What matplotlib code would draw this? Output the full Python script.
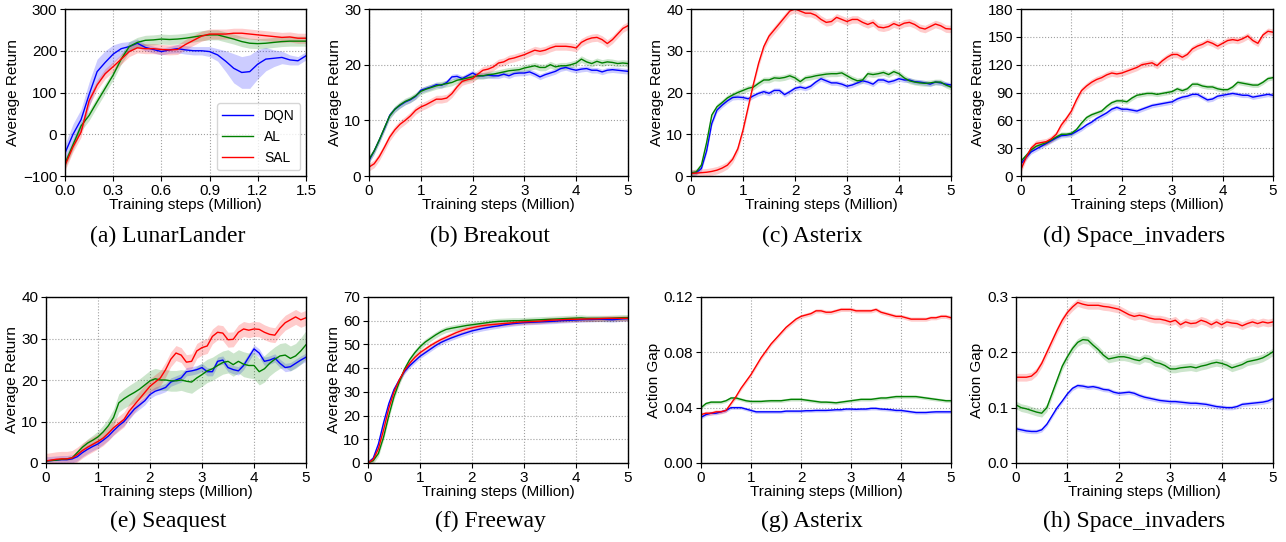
import matplotlib.pyplot as plt
import numpy as np

plt.rcParams['font.family'] = ['Liberation Sans', 'DejaVu Sans']
plt.rcParams['axes.linewidth'] = 1.0

W, H = 1286, 542

methods = ['DQN', 'AL', 'SAL']
colors = ['b', 'g', 'r']

# x grids (million steps)
x_lunar = np.arange(31) * 0.05
x_atari = np.arange(51) * 0.1

# (a) LunarLander
lunar_dqn = [-45, 0, 35, 95, 150, 172, 192, 205, 210, 218,
             208, 203, 198, 202, 205, 202, 200, 200, 198, 190,
             175, 158, 148, 150, 168, 180, 182, 184, 178, 176,
             188]
lunar_al = [-70, -25, 20, 45, 78, 110, 142, 180, 210, 220,
            225, 226, 228, 227, 228, 230, 233, 236, 238, 238,
            233, 228, 222, 218, 217, 218, 220, 222, 223, 223,
            223]
lunar_sal = [-75, -30, 5, 80, 118, 145, 162, 180, 198, 207,
             205, 205, 203, 202, 203, 215, 225, 235, 240, 240,
             240, 242, 242, 240, 238, 236, 234, 232, 233, 230,
             230]
lunar_dqn_band = [20, 25, 25, 30, 30, 28, 22, 15, 12, 10,
                  8, 8, 8, 8, 10, 10, 10, 10, 12, 15,
                  25, 35, 38, 40, 35, 28, 20, 15, 12, 10,
                  10]

# (b) Breakout
breakout_dqn = [2.8, 4.5, 6.5, 8.6, 10.9, 12.0, 12.7, 13.3, 13.7, 14.3,
                15.4, 15.7, 16.0, 16.4, 16.3, 16.8, 17.8, 17.9, 17.5, 18.0,
                18.5, 18.0, 18.0, 18.1, 18.0, 18.0, 18.3, 18.0, 18.4, 18.5,
                18.5, 18.7, 18.3, 17.8, 18.2, 18.5, 18.8, 19.3, 19.5, 19.2,
                19.0, 19.2, 19.3, 19.0, 19.0, 18.7, 19.0, 19.1, 19.0, 18.9,
                18.8]
breakout_al = [3.0, 4.5, 6.5, 8.7, 10.8, 12.0, 12.8, 13.4, 13.8, 14.4,
               15.2, 15.6, 15.9, 16.2, 16.4, 16.6, 16.8, 17.2, 17.4, 17.6,
               17.8, 18.0, 18.0, 18.2, 18.3, 18.5, 18.7, 18.9, 19.0, 19.1,
               19.4, 19.6, 19.8, 19.5, 19.5, 20.0, 19.6, 19.8, 19.8, 20.0,
               20.3, 21.0, 20.5, 20.2, 20.6, 20.3, 20.5, 20.4, 20.2, 20.3,
               20.2]
breakout_sal = [1.6, 2.2, 3.5, 5.2, 7.0, 8.3, 9.3, 10.0, 10.8, 11.8,
                12.4, 12.8, 13.3, 13.8, 13.8, 14.0, 14.8, 16.0, 17.0, 17.3,
                17.5, 18.3, 19.0, 19.2, 19.6, 20.3, 20.5, 21.0, 21.2, 21.5,
                21.8, 22.2, 22.6, 22.4, 22.6, 23.0, 23.3, 23.3, 23.3, 23.2,
                23.0, 24.0, 24.5, 24.8, 24.9, 24.5, 23.8, 24.5, 25.5, 26.5,
                27.0]

# (c) Asterix return
asterix_dqn = [0.7, 0.8, 1.8, 6.0, 12.6, 15.8, 17.0, 18.0, 18.8, 18.9,
               18.8, 18.5, 19.2, 19.8, 20.2, 19.8, 20.5, 20.5, 19.5, 20.2,
               21.0, 21.3, 21.0, 21.5, 22.5, 23.3, 22.8, 22.3, 22.3, 22.0,
               21.5, 21.8, 22.3, 22.8, 22.5, 22.0, 23.0, 23.0, 22.5, 22.8,
               23.3, 23.0, 23.0, 22.6, 22.5, 22.3, 22.0, 22.5, 22.3, 22.0,
               21.8]
asterix_al = [0.7, 1.0, 2.6, 8.0, 14.6, 16.6, 17.6, 18.7, 19.4, 20.0,
              20.5, 21.0, 21.3, 22.2, 23.0, 23.0, 23.5, 23.4, 23.6, 24.0,
              23.5, 22.6, 23.5, 23.7, 24.0, 24.2, 24.4, 24.5, 24.5, 24.7,
              24.0, 23.3, 22.8, 23.0, 24.5, 24.3, 24.5, 24.8, 24.3, 25.0,
              24.5, 23.5, 22.8, 22.5, 22.3, 22.2, 22.3, 22.5, 22.5, 21.8,
              21.3]
asterix_sal = [0.6, 0.7, 0.8, 0.9, 1.1, 1.4, 1.9, 2.6, 4.0, 6.5,
               11.0, 16.5, 22.0, 27.0, 31.0, 33.5, 35.0, 36.5, 38.0, 39.5,
               40.0, 39.5, 39.0, 39.0, 38.5, 37.5, 36.8, 37.0, 38.0, 37.5,
               37.0, 37.5, 37.5, 36.8, 36.3, 36.8, 35.7, 35.5, 35.8, 36.5,
               36.0, 36.6, 36.8, 36.3, 35.5, 35.2, 35.8, 36.4, 36.0, 35.3,
               35.2]

# (d) Space_invaders return
space_dqn = [13, 20, 26, 29, 32, 35, 38, 41, 43.5, 44,
             45, 48, 51, 55, 58, 62, 65, 68, 72, 74,
             72, 72, 71, 70, 72, 74, 76, 77, 78, 79,
             80, 83, 85, 86, 88, 88, 85, 82, 83, 86,
             87, 88, 89, 88, 87, 87, 85, 86, 87, 88,
             87]
space_al = [16, 22, 28, 32, 34, 36, 39, 42, 45, 45,
            46, 50, 57, 63, 66, 68, 70, 75, 79, 81,
            81, 80, 84, 87, 88, 89, 89, 88, 89, 90,
            91, 94, 92, 94, 99, 99, 97, 96, 96, 94,
            93, 93, 96, 101, 100, 99, 98, 98, 101, 105,
            106]
space_sal = [7, 20, 30, 35, 36, 37, 40, 45, 55, 62,
             70, 82, 92, 97, 101, 104, 106, 109, 111, 110,
             111, 113, 115, 117, 120, 121, 122, 119, 124, 128,
             131, 131, 128, 131, 137, 140, 142, 145, 143, 140,
             143, 146, 147, 146, 148, 151, 146, 143, 152, 156,
             155]

# (e) Seaquest
seaquest_dqn = [0.5, 0.6, 0.7, 0.8, 0.8, 1.0, 1.5, 2.5, 3.3, 4.0,
                4.6, 5.5, 6.5, 7.8, 9.0, 10.0, 11.5, 13.0, 14.0, 15.0,
                16.5, 17.3, 17.7, 18.2, 19.5, 20.0, 20.5, 22.0, 22.2, 22.5,
                23.0, 22.0, 22.0, 24.5, 24.8, 23.0, 22.5, 22.2, 23.5, 25.5,
                27.5, 26.5, 24.5, 24.8, 25.3, 24.0, 23.0, 23.2, 24.0, 24.8,
                25.5]
seaquest_al = [0.5, 0.6, 0.7, 0.9, 1.0, 1.2, 2.5, 3.8, 4.8, 5.5,
               6.3, 7.5, 9.0, 11.0, 14.5, 15.5, 16.3, 17.0, 17.8, 18.8,
               19.8, 20.3, 20.0, 20.0, 19.8, 19.8, 20.0, 19.7, 19.5, 20.5,
               21.3, 22.2, 22.7, 23.5, 24.2, 24.5, 23.7, 24.5, 23.8, 23.5,
               23.5, 22.0, 22.7, 24.0, 25.0, 25.8, 26.0, 25.2, 25.8, 27.0,
               28.5]
seaquest_sal = [0.5, 0.7, 0.9, 1.0, 1.0, 1.2, 2.0, 3.0, 3.8, 4.5,
                5.2, 6.0, 7.2, 8.5, 9.5, 10.5, 12.5, 14.0, 15.5, 17.0,
                18.5, 19.5, 20.5, 22.5, 25.0, 26.5, 26.0, 24.3, 24.5, 27.0,
                27.8, 28.2, 30.5, 31.5, 31.3, 29.7, 29.8, 31.5, 32.3, 32.0,
                32.3, 32.2, 31.5, 31.0, 30.8, 32.5, 33.8, 34.5, 35.2, 34.5,
                35.0]
seaquest_al_band = [0.1, 0.1, 0.1, 0.2, 0.3, 0.4, 0.6, 0.8, 1.0, 1.2,
                    1.4, 1.6, 1.8, 2.0, 2.2, 2.3, 2.4, 2.5, 2.5, 2.5,
                    2.5, 2.5, 2.5, 2.5, 2.5, 2.5, 2.5, 2.6, 2.7, 2.8,
                    2.8, 2.8, 2.8, 2.8, 2.8, 2.8, 2.8, 2.8, 3.0, 3.0,
                    3.2, 3.2, 3.2, 3.0, 3.0, 3.0, 3.0, 3.0, 3.0, 3.2,
                    3.4]

# (f) Freeway
freeway_dqn = [0, 2, 8, 17, 25, 31, 35, 38.5, 41, 43,
               45, 46.5, 48, 49.5, 50.8, 51.8, 52.7, 53.5, 54.3, 55,
               55.7, 56.2, 56.7, 57.1, 57.5, 57.8, 58.2, 58.5, 58.8, 59,
               59.2, 59.3, 59.4, 59.5, 59.6, 59.7, 59.8, 60, 60.1, 60.2,
               60.3, 60.4, 60.5, 60.5, 60.6, 60.6, 60.5, 60.4, 60.6, 60.8,
               60.9]
freeway_al = [0, 1, 4, 11, 20, 28, 34, 39.5, 43.5, 46.5,
              49, 51, 52.5, 54, 55.3, 56.3, 56.8, 57.2, 57.6, 58,
              58.3, 58.6, 58.9, 59.2, 59.5, 59.7, 59.8, 59.9, 60, 60,
              60.1, 60.2, 60.3, 60.4, 60.5, 60.6, 60.7, 60.8, 60.9, 61,
              61.1, 61.2, 61, 61, 61, 61, 61, 61.1, 61.2, 61.3,
              61.3]
freeway_sal = [0, 1.5, 6, 14, 23, 30, 35, 39, 42, 44.5,
               46.5, 48, 49.5, 50.8, 52, 53, 54, 55, 55.8, 56.5,
               57, 57.5, 57.9, 58.2, 58.4, 58.6, 58.8, 59, 59.2, 59.4,
               59.5, 59.6, 59.7, 59.8, 60, 60.2, 60.3, 60.4, 60.5, 60.6,
               60.6, 60.7, 60.7, 60.8, 60.8, 60.9, 61, 61, 61, 61,
               61]

# (g) Asterix action gap
gap_asterix_dqn = [0.033, 0.035, 0.036, 0.036, 0.037, 0.038, 0.040, 0.040, 0.040, 0.039,
                   0.038, 0.037, 0.037, 0.037, 0.037, 0.037, 0.037, 0.0375, 0.0375, 0.0375,
                   0.0375, 0.0378, 0.0378, 0.038, 0.038, 0.038, 0.0382, 0.0385, 0.0385, 0.039,
                   0.039, 0.0388, 0.039, 0.039, 0.0395, 0.0395, 0.039, 0.0388, 0.0385, 0.038,
                   0.038, 0.0375, 0.037, 0.0365, 0.0365, 0.0365, 0.0368, 0.037, 0.037, 0.037,
                   0.037]
gap_asterix_al = [0.040, 0.043, 0.044, 0.044, 0.044, 0.045, 0.047, 0.047, 0.046, 0.045,
                  0.0445, 0.0445, 0.0445, 0.0448, 0.045, 0.045, 0.045, 0.0455, 0.046, 0.046,
                  0.046, 0.0455, 0.045, 0.0445, 0.044, 0.044, 0.0438, 0.0435, 0.044, 0.0445,
                  0.045, 0.0455, 0.046, 0.046, 0.046, 0.0465, 0.047, 0.047, 0.0475, 0.048,
                  0.048, 0.048, 0.048, 0.048, 0.0475, 0.047, 0.0465, 0.046, 0.0455, 0.045,
                  0.045]
gap_asterix_sal = [0.035, 0.036, 0.036, 0.037, 0.037, 0.038, 0.043, 0.048, 0.054, 0.059,
                   0.064, 0.070, 0.076, 0.081, 0.086, 0.090, 0.094, 0.098, 0.101, 0.104,
                   0.106, 0.107, 0.108, 0.110, 0.110, 0.109, 0.109, 0.110, 0.111, 0.111,
                   0.111, 0.110, 0.110, 0.110, 0.110, 0.111, 0.109, 0.108, 0.107, 0.106,
                   0.106, 0.105, 0.104, 0.104, 0.104, 0.104, 0.105, 0.105, 0.106, 0.106,
                   0.105]

# (h) Space_invaders action gap
gap_space_dqn = [0.062, 0.060, 0.058, 0.057, 0.057, 0.060, 0.070, 0.085, 0.100, 0.112,
                 0.125, 0.135, 0.140, 0.139, 0.137, 0.138, 0.136, 0.133, 0.132, 0.128,
                 0.126, 0.127, 0.128, 0.126, 0.122, 0.119, 0.117, 0.115, 0.113, 0.112,
                 0.111, 0.111, 0.110, 0.109, 0.108, 0.108, 0.107, 0.106, 0.104, 0.102,
                 0.101, 0.100, 0.100, 0.102, 0.106, 0.107, 0.108, 0.109, 0.110, 0.112,
                 0.116]
gap_space_al = [0.105, 0.100, 0.098, 0.095, 0.092, 0.090, 0.100, 0.125, 0.150, 0.175,
                0.192, 0.207, 0.218, 0.223, 0.222, 0.213, 0.205, 0.195, 0.188, 0.190,
                0.192, 0.192, 0.190, 0.187, 0.185, 0.190, 0.188, 0.182, 0.180, 0.176,
                0.170, 0.170, 0.172, 0.173, 0.174, 0.172, 0.175, 0.177, 0.180, 0.182,
                0.180, 0.177, 0.172, 0.175, 0.178, 0.183, 0.185, 0.187, 0.190, 0.195,
                0.201]
gap_space_sal = [0.155, 0.155, 0.155, 0.157, 0.165, 0.180, 0.200, 0.220, 0.240, 0.258,
                 0.272, 0.282, 0.290, 0.287, 0.285, 0.285, 0.285, 0.283, 0.282, 0.280,
                 0.278, 0.273, 0.268, 0.265, 0.267, 0.265, 0.262, 0.260, 0.260, 0.258,
                 0.255, 0.258, 0.250, 0.255, 0.252, 0.253, 0.258, 0.255, 0.250, 0.255,
                 0.250, 0.255, 0.253, 0.252, 0.248, 0.252, 0.255, 0.252, 0.255, 0.253,
                 0.255]

# shaded band half-widths (DQN, AL, SAL)
bands_lunar = [lunar_dqn_band, 12, 12]
bands_breakout = [0.5, 0.6, 0.7]
bands_asterix = [0.6, 0.7, 0.9]
bands_space = [2.5, 2.5, 3.5]
bands_seaquest = [1.0, seaquest_al_band, 1.8]
bands_freeway = [1.0, 1.3, 1.1]
bands_gap_asterix = [0.0012, 0.0012, 0.0015]
bands_gap_space = [0.004, 0.007, 0.007]

# tick labels
lunar_xticks = ['0.0', '0.3', '0.6', '0.9', '1.2', '1.5']
atari_xticks = ['0', '1', '2', '3', '4', '5']
lunar_yticks = ['\u2212100', '0', '100', '200', '300']
gap_asterix_yticks = ['0.00', '0.04', '0.08', '0.12']
gap_space_yticks = ['0.0', '0.1', '0.2', '0.3']

captions = ['(a) LunarLander', '(b) Breakout', '(c) Asterix', '(d) Space_invaders',
            '(e) Seaquest', '(f) Freeway', '(g) Asterix', '(h) Space_invaders']


def px_box(left, top, right, bottom):
    return [left / W, 1 - bottom / H, (right - left) / W, (bottom - top) / H]


def draw_panel(fig, box, x, curves, bands, ylim, yticks, ylabel, xticks, yticklabels=None):
    ax = fig.add_axes(px_box(*box))
    for y, band, col, name in zip(curves, bands, colors, methods):
        y = np.asarray(y, dtype=float)
        b = np.broadcast_to(np.asarray(band, dtype=float), y.shape)
        ax.fill_between(x, y - b, y + b, color=col, alpha=0.2, lw=0)
        ax.plot(x, y, color=col, lw=1.0, label=name)
    ax.set_xlim(x[0], x[-1])
    ax.set_ylim(*ylim)
    xt = np.linspace(x[0], x[-1], len(xticks))
    ax.set_xticks(xt)
    ax.set_xticklabels(xticks)
    ax.set_yticks(yticks)
    if yticklabels is not None:
        ax.set_yticklabels(yticklabels)
    ax.tick_params(labelsize=11, length=3.5, width=0.8, pad=2)
    ax.grid(True, linestyle=':', color='#a0a0a0', lw=0.8)
    ax.set_axisbelow(True)
    ax.set_xlabel('Training steps (Million)', fontsize=11, labelpad=0)
    ax.set_ylabel(ylabel, fontsize=11, labelpad=2)
    return ax


fig = plt.figure(figsize=(W / 100, H / 100), dpi=100)

ax = draw_panel(fig, (65, 9, 306, 176), x_lunar, [lunar_dqn, lunar_al, lunar_sal], bands_lunar,
                (-100, 300), [-100, 0, 100, 200, 300], 'Average Return', lunar_xticks, lunar_yticks)
ax.legend(loc='lower right', fontsize=10, borderaxespad=0.4, handlelength=2.2)

draw_panel(fig, (369, 9, 628, 176), x_atari, [breakout_dqn, breakout_al, breakout_sal], bands_breakout,
           (0, 30), [0, 10, 20, 30], 'Average Return', atari_xticks)
draw_panel(fig, (691, 9, 951, 176), x_atari, [asterix_dqn, asterix_al, asterix_sal], bands_asterix,
           (0, 40), [0, 10, 20, 30, 40], 'Average Return', atari_xticks)
draw_panel(fig, (1021, 9, 1273, 176), x_atari, [space_dqn, space_al, space_sal], bands_space,
           (0, 180), [0, 30, 60, 90, 120, 150, 180], 'Average Return', atari_xticks)

draw_panel(fig, (46, 297, 306, 463), x_atari, [seaquest_dqn, seaquest_al, seaquest_sal], bands_seaquest,
           (0, 40), [0, 10, 20, 30, 40], 'Average Return', atari_xticks)
draw_panel(fig, (368, 297, 628, 463), x_atari, [freeway_dqn, freeway_al, freeway_sal], bands_freeway,
           (0, 70), [0, 10, 20, 30, 40, 50, 60, 70], 'Average Return', atari_xticks)
draw_panel(fig, (701, 297, 951, 463), x_atari, [gap_asterix_dqn, gap_asterix_al, gap_asterix_sal],
           bands_gap_asterix, (0, 0.12), [0, 0.04, 0.08, 0.12], 'Action Gap', atari_xticks,
           gap_asterix_yticks)
draw_panel(fig, (1016, 297, 1273, 463), x_atari, [gap_space_dqn, gap_space_al, gap_space_sal],
           bands_gap_space, (0, 0.3), [0, 0.1, 0.2, 0.3], 'Action Gap', atari_xticks,
           gap_space_yticks)

for i, cap in enumerate(captions):
    cx = 168 + 322 * (i % 4)
    cy = 236 if i < 4 else 521
    fig.text(cx / W, 1 - cy / H, cap, ha='center', va='center', fontsize=17,
             family=['Liberation Serif', 'DejaVu Serif'])

fig.savefig('out.png', dpi=100)
